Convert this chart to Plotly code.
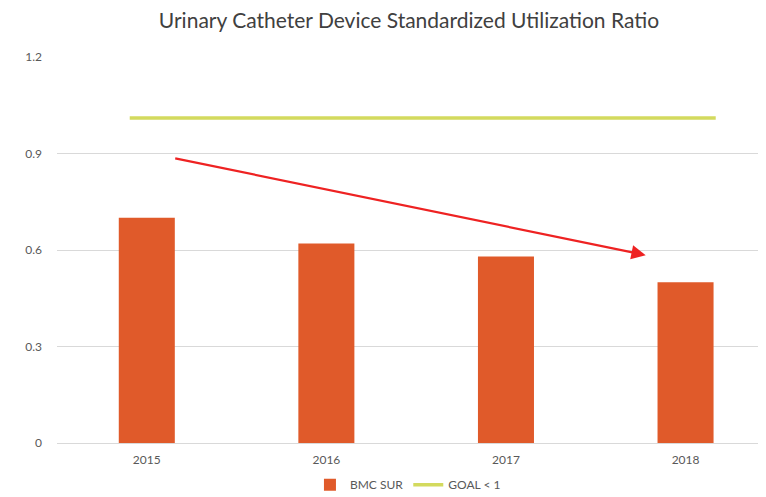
import plotly.graph_objects as go

years = ["2015", "2016", "2017", "2018"]
sur_values = [0.70, 0.62, 0.58, 0.50]
goal_value = 1.01
goal_span = [-0.095, 3.168]
arrow_start = [0.150, 0.886]
arrow_end = [2.778, 0.584]
y_ticks = [0, 0.3, 0.6, 0.9, 1.2]

x_idx = list(range(len(years)))

fig = go.Figure()
fig.add_trace(go.Bar(
    x=x_idx, y=sur_values, name="BMC SUR",
    marker=dict(color="#E05A2A", line=dict(width=0)),
    width=0.312,
))
fig.add_trace(go.Scatter(
    x=goal_span, y=[goal_value, goal_value], name="GOAL < 1",
    mode="lines", line=dict(color="#D3DA5E", width=3.5),
))

fig.add_annotation(
    x=arrow_end[0], y=arrow_end[1], ax=arrow_start[0], ay=arrow_start[1],
    xref="x", yref="y", axref="x", ayref="y",
    showarrow=True, arrowhead=2, arrowsize=1.3, arrowwidth=2.2,
    arrowcolor="#EE2222", text="",
)

fig.update_layout(
    width=758, height=489,
    margin=dict(l=49, r=0, t=49, b=54, autoexpand=False),
    paper_bgcolor="white", plot_bgcolor="white",
    title=dict(text="Urinary Catheter Device Standardized Utilization Ratio",
               x=0.529, xanchor="center", y=0.975, yanchor="middle",
               font=dict(family="Lato, sans-serif", size=21, color="#404040")),
    font=dict(family="Lato, sans-serif", size=12, color="#595959"),
    showlegend=True,
    legend=dict(orientation="h", x=0.495, xanchor="center",
                yref="container", y=0.025, yanchor="middle",
                font=dict(size=12, color="#595959"), traceorder="normal"),
    bargap=0.68,
)
fig.update_xaxes(
    range=[-0.5, 3.448], tickmode="array", tickvals=x_idx, ticktext=years,
    showgrid=False, showline=True, linecolor="#D9D9D9", linewidth=1,
    ticks="", zeroline=False, ticklabelstandoff=6,
)
fig.update_yaxes(
    range=[0, 1.2], tickvals=y_ticks, ticktext=["0", "0.3", "0.6", "0.9", "1.2"],
    showgrid=True, gridcolor="#D9D9D9", gridwidth=1, zeroline=False,
    showline=False, ticks="", ticklabelstandoff=14,
)

fig.write_html("out.html")
